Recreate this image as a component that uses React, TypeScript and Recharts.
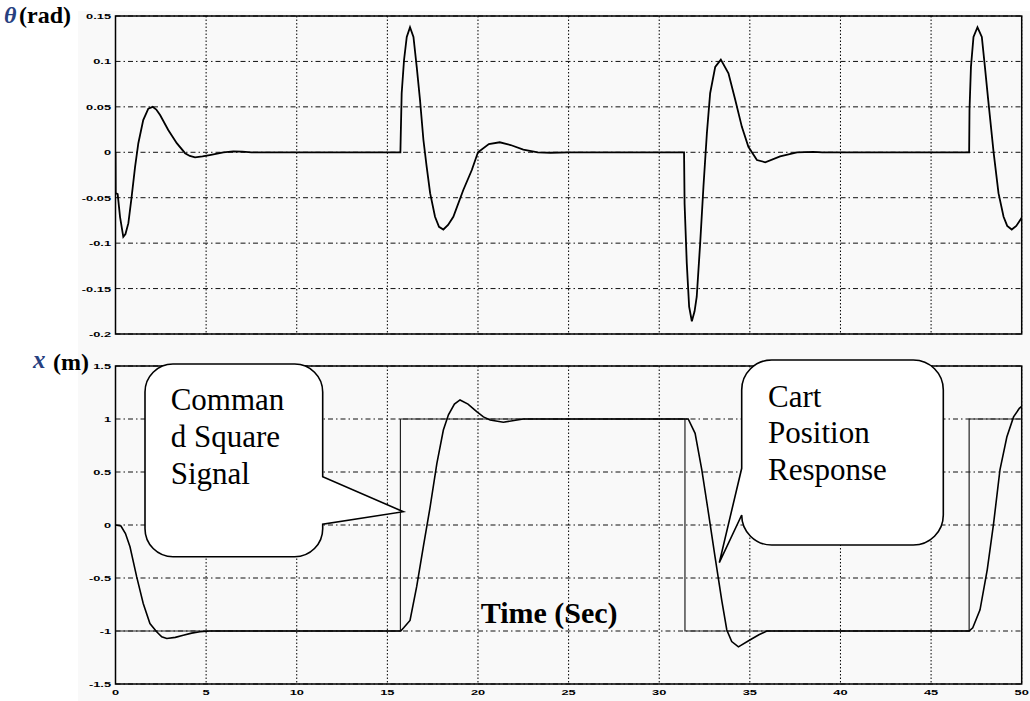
import { LineChart, Line, XAxis, YAxis, CartesianGrid, ReferenceArea } from 'recharts';

// pendulum angle (rad) vs time (s)
const thetaTime = [
  0, 0.01, 0.12, 0.25, 0.43, 0.55, 0.71, 0.89, 1.08, 1.26, 1.53, 1.81, 2.05, 2.25, 2.46, 2.91, 3.38, 3.84,
  4.1, 4.39, 4.8, 5.2, 5.95, 6.5, 7.0, 7.5,
  15.72, 15.74, 15.79, 15.92, 16.07, 16.25, 16.44, 16.62, 16.8, 16.99, 17.17, 17.36, 17.63, 17.85, 18.09,
  18.35, 18.64, 19.19, 19.66, 20.0, 20.6, 21.2, 21.8, 22.5, 23.3, 24.0, 25.0,
  31.37, 31.4, 31.52, 31.65, 31.8, 31.95, 32.07, 32.26, 32.44, 32.63, 32.81, 33.09, 33.4, 33.82, 34.19,
  34.56, 34.92, 35.39, 35.85, 36.67, 37.6, 38.5, 39.0,
  47.1, 47.12, 47.2, 47.34, 47.56, 47.8, 47.97, 48.15, 48.45, 48.72, 49.0, 49.2, 49.45, 49.7, 50.0,
];
const thetaRad = [
  0, -0.045, -0.046, -0.071, -0.093, -0.09, -0.078, -0.049, -0.016, 0.01, 0.0355, 0.048, 0.05, 0.047, 0.041, 0.0245, 0.01, -0.001,
  -0.004, -0.0055, -0.0045, -0.003, 0, 0.001, 0.0008, 0,
  0, 0.02, 0.065, 0.1016, 0.127, 0.1376, 0.127, 0.094, 0.058, 0.0135, -0.016, -0.045, -0.071, -0.082, -0.085,
  -0.08, -0.071, -0.0415, -0.0195, 0, 0.009, 0.011, 0.008, 0.003, 0, -0.0005, 0,
  0, -0.057, -0.122, -0.17, -0.186, -0.175, -0.159, -0.1, -0.038, 0.021, 0.065, 0.094, 0.102, 0.087, 0.058,
  0.028, 0.006, -0.0085, -0.011, -0.0045, 0, 0.0005, 0,
  0, 0.0465, 0.094, 0.127, 0.1376, 0.127, 0.094, 0.058, 0, -0.045, -0.071, -0.081, -0.085, -0.081, -0.072,
];

// cart position (m)
const posTime = [
  0, 0.3, 0.55, 0.8, 1.17, 1.53, 1.9, 2.27, 2.55, 2.83, 3.3, 3.74, 4.2, 4.66, 5.2,
  15.74, 15.9, 16.25, 16.62, 16.99, 17.36, 17.73, 18.09, 18.37, 18.7, 19.01, 19.45, 19.93, 20.3, 20.67, 21.4, 22.5,
  31.43, 31.6, 31.98, 32.35, 32.72, 33.08, 33.45, 33.73, 34.0, 34.37, 35.0, 35.5, 35.94,
  47.1, 47.3, 47.7, 48.1, 48.45, 48.8, 49.18, 49.55, 49.87, 50.0,
];
const posMeters = [
  0, -0.01, -0.08, -0.205, -0.49, -0.74, -0.93, -1.007, -1.055, -1.07, -1.06, -1.04, -1.02, -1.007, -1.0,
  -1.0, -0.97, -0.9, -0.58, -0.2, 0.17, 0.58, 0.896, 1.04, 1.14, 1.18, 1.14, 1.07, 1.02, 0.99, 0.97, 1.0,
  1.0, 1.0, 0.865, 0.52, 0.11, -0.3, -0.71, -0.99, -1.1, -1.15, -1.085, -1.035, -1.0,
  -1.0, -0.97, -0.8, -0.42, 0.016, 0.52, 0.83, 1.02, 1.1, 1.12,
];

// square command signal (m)
const cmdTime = [0, 15.72, 15.72, 31.42, 31.42, 47.1, 47.1, 50];
const cmdMeters = [-1, -1, 1, 1, -1, -1, 1, 1];

const timeTicks = [0, 5, 10, 15, 20, 25, 30, 35, 40, 45, 50];
const thetaTicks = [-0.2, -0.15, -0.1, -0.05, 0, 0.05, 0.1, 0.15];
const posTicks = [-1.5, -1, -0.5, 0, 0.5, 1, 1.5];

const thetaData = thetaTime.map((t, i) => ({ t, v: thetaRad[i] }));
const posData = posTime.map((t, i) => ({ t, v: posMeters[i] }));
const cmdData = cmdTime.map((t, i) => ({ t, v: cmdMeters[i] }));

const Y_AXIS_W = 40;
const LEFT = 115.5 - Y_AXIS_W;
const RIGHT = 1030 - 1021.7;
const BG = '#f9f9f9';
const tickFont = "'Liberation Sans', Arial, sans-serif";
const serif = "'Liberation Serif', 'Times New Roman', serif";

function YTick(props: any) {
  const { x, y, payload } = props;
  return (
    <text
      transform={`translate(${x},${y}) scale(1.6,1)`}
      textAnchor="end"
      dominantBaseline="central"
      fontFamily={tickFont}
      fontWeight="bold"
      fontSize={8}
      fill="#000"
    >
      {payload.value}
    </text>
  );
}

function XTick(props: any) {
  const { x, y, payload } = props;
  return (
    <text
      transform={`translate(${x},${y + 8}) scale(1.6,1)`}
      textAnchor="middle"
      dominantBaseline="central"
      fontFamily={tickFont}
      fontWeight="bold"
      fontSize={8}
      fill="#000"
    >
      {payload.value}
    </text>
  );
}

export default function App() {
  return (
    <div style={{ position: 'absolute', left: 0, top: 0, width: 1030, height: 701, background: '#fff', overflow: 'hidden' }}>
      <div style={{ position: 'absolute', left: 78, top: 11, width: 952, height: 690, background: BG }} />

      {/* top: pendulum angle */}
      <div style={{ position: 'absolute', left: 0, top: 0 }}>
        <LineChart width={1030} height={340} margin={{ top: 16, right: RIGHT, left: LEFT, bottom: 6 }}>
          <XAxis dataKey="t" type="number" domain={[0, 50]} ticks={timeTicks} hide allowDataOverflow />
          <YAxis
            type="number"
            domain={[-0.2, 0.15]}
            ticks={thetaTicks}
            width={Y_AXIS_W}
            axisLine={false}
            tickLine={false}
            tickSize={0}
            tickMargin={4.5}
            tick={<YTick />}
            interval={0}
            allowDataOverflow
          />
          <CartesianGrid horizontal={false} stroke="#000" strokeDasharray="1.5 2" />
          <CartesianGrid vertical={false} stroke="#111" strokeDasharray="5 3 1.5 3" />
          <Line data={thetaData} dataKey="v" type="linear" stroke="#000" strokeWidth={1.8} dot={false} isAnimationActive={false} />
          <ReferenceArea x1={0} x2={50} y1={-0.2} y2={0.15} fill="none" stroke="#000" strokeWidth={1.5} />
        </LineChart>
      </div>

      {/* bottom: cart position and command */}
      <div style={{ position: 'absolute', left: 0, top: 350 }}>
        <LineChart width={1030} height={351} margin={{ top: 16, right: RIGHT, left: LEFT, bottom: 0 }}>
          <XAxis
            dataKey="t"
            type="number"
            domain={[0, 50]}
            ticks={timeTicks}
            height={17}
            axisLine={false}
            tickLine={false}
            tickSize={0}
            tickMargin={0}
            tick={<XTick />}
            interval={0}
            allowDataOverflow
          />
          <YAxis
            type="number"
            domain={[-1.5, 1.5]}
            ticks={posTicks}
            width={Y_AXIS_W}
            axisLine={false}
            tickLine={false}
            tickSize={0}
            tickMargin={4.5}
            tick={<YTick />}
            interval={0}
            allowDataOverflow
          />
          <CartesianGrid horizontal={false} stroke="#000" strokeDasharray="1.5 2" />
          <CartesianGrid vertical={false} stroke="#111" strokeDasharray="5 3 1.5 3" />
          <Line data={cmdData} dataKey="v" type="linear" stroke="#222" strokeWidth={1.2} dot={false} isAnimationActive={false} />
          <Line data={posData} dataKey="v" type="linear" stroke="#000" strokeWidth={1.6} dot={false} isAnimationActive={false} />
          <ReferenceArea x1={0} x2={50} y1={-1.5} y2={1.5} fill="none" stroke="#000" strokeWidth={1.5} />
        </LineChart>
      </div>

      {/* axis titles and callouts */}
      <svg width={1030} height={701} style={{ position: 'absolute', left: 0, top: 0, pointerEvents: 'none' }}>
        <text x={4} y={23} fontFamily={serif} fontWeight="bold" fontStyle="italic" fontSize={24} fill="#27407f">θ</text>
        <text x={19} y={23} fontFamily={serif} fontWeight="bold" fontSize={24} fill="#000">(rad)</text>
        <text x={33} y={368} fontFamily={serif} fontWeight="bold" fontStyle="italic" fontSize={25} fill="#27407f">x</text>
        <text x={53} y={370} fontFamily={serif} fontWeight="bold" fontSize={24} fill="#000">(m)</text>

        <text x={480.7} y={623} fontFamily={serif} fontWeight="bold" fontSize={30} fill="#000">Time (Sec)</text>

        <path
          d="M 173 364 H 294.7 A 28 28 0 0 1 322.7 392 V 476.7 L 403.3 511.7 L 322.7 524.3 V 528.7 A 28 28 0 0 1 294.7 556.7 H 173 A 28 28 0 0 1 145 528.7 V 392 A 28 28 0 0 1 173 364 Z"
          fill="#fff"
          stroke="#000"
          strokeWidth={1.6}
        />
        <text fontFamily={serif} fontSize={31} fill="#000">
          <tspan x={170.7} y={410}>Comman</tspan>
          <tspan x={170.7} y={447.3}>d Square</tspan>
          <tspan x={170.7} y={484}>Signal</tspan>
        </text>

        <path
          d="M 771.7 360 H 913.3 A 30 30 0 0 1 943.3 390 V 515 A 30 30 0 0 1 913.3 545 H 771.7 A 30 30 0 0 1 741.7 515 L 719.3 562.7 L 741.7 468.3 V 390 A 30 30 0 0 1 771.7 360 Z"
          fill="#fff"
          stroke="#000"
          strokeWidth={1.6}
        />
        <text fontFamily={serif} fontSize={31} fill="#000">
          <tspan x={768} y={406.7}>Cart</tspan>
          <tspan x={768} y={443.3}>Position</tspan>
          <tspan x={768} y={480}>Response</tspan>
        </text>
      </svg>
    </div>
  );
}
